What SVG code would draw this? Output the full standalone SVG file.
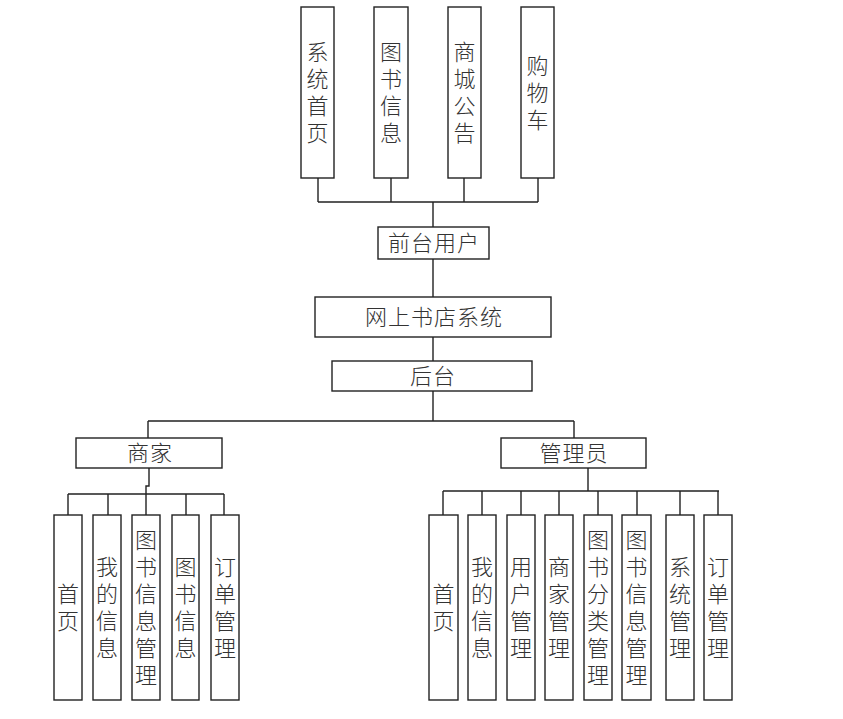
<svg xmlns="http://www.w3.org/2000/svg" width="843" height="719" viewBox="0 0 843 719">
<style>
rect{fill:#fff;stroke:#222;stroke-width:1.4}
text{font-family:"Noto Sans CJK SC","Noto Sans",sans-serif;font-size:22px;font-weight:300;fill:#333;text-anchor:middle;letter-spacing:1px}
text.v{writing-mode:vertical-rl;text-orientation:upright;letter-spacing:5px}
.c{fill:none;stroke:#222;stroke-width:1.4}
</style>
<rect x="0" y="0" width="843" height="719" style="stroke:none"/>
<g id="connectors">
<path class="c" d="M318,178V202M391,178V202M464,178V202M538,178V202M318,202H538M433,202V227"/>
<path class="c" d="M433,259V297M433,337V361M433,391V421M148,421H574M148,421V438M574,421V438"/>
<path class="c" d="M149,468V486H146V494M68,494H224M68,494V515M108,494V515M146,494V515M186,494V515M224,494V515"/>
<path class="c" d="M588,468V491M443,491H719M443,491V515M482,491V515M521,491V515M559,491V515M598,491V515M637,491V515M680,491V515M718,491V515"/>
</g>
<g id="n-xitongshouye"><rect x="301" y="7" width="33" height="171"/><text class="v" x="317.5" y="95">系统首页</text></g>
<g id="n-tushuxinxi"><rect x="374" y="7" width="34" height="171"/><text class="v" x="391" y="95">图书信息</text></g>
<g id="n-shangchenggonggao"><rect x="448" y="7" width="33" height="171"/><text class="v" x="464.5" y="95">商城公告</text></g>
<g id="n-gouwuche"><rect x="521" y="7" width="33" height="171"/><text class="v" x="537.5" y="95">购物车</text></g>
<g id="n-qiantai"><rect x="378" y="227" width="111" height="32"/><text x="434" y="251">前台用户</text></g>
<g id="n-system"><rect x="315" y="297" width="236" height="40"/><text x="434" y="325">网上书店系统</text></g>
<g id="n-houtai"><rect x="332" y="361" width="200" height="30"/><text x="433" y="384">后台</text></g>
<g id="n-shangjia"><rect x="76" y="438" width="146" height="30"/><text x="150" y="461">商家</text></g>
<g id="n-guanliyuan"><rect x="501" y="438" width="145" height="30"/><text x="574" y="461">管理员</text></g>
<g id="s-shouye"><rect x="54" y="515" width="28" height="185"/><text class="v" x="68" y="610">首页</text></g>
<g id="s-wodexinxi"><rect x="93" y="515" width="28" height="185"/><text class="v" x="107" y="610">我的信息</text></g>
<g id="s-tushuxinxiguanli"><rect x="132" y="515" width="28" height="185"/><text class="v" x="146" y="610">图书信息管理</text></g>
<g id="s-tushuxinxi"><rect x="172" y="515" width="27" height="185"/><text class="v" x="185.5" y="610">图书信息</text></g>
<g id="s-dingdanguanli"><rect x="211" y="515" width="28" height="185"/><text class="v" x="225" y="610">订单管理</text></g>
<g id="a-shouye"><rect x="429" y="515" width="29" height="185"/><text class="v" x="443.5" y="610">首页</text></g>
<g id="a-wodexinxi"><rect x="468" y="515" width="28" height="185"/><text class="v" x="482" y="610">我的信息</text></g>
<g id="a-yonghuguanli"><rect x="507" y="515" width="28" height="185"/><text class="v" x="521" y="610">用户管理</text></g>
<g id="a-shangjiaguanli"><rect x="545" y="515" width="28" height="185"/><text class="v" x="559" y="610">商家管理</text></g>
<g id="a-tushufenleiguanli"><rect x="584" y="515" width="28" height="185"/><text class="v" x="598" y="610">图书分类管理</text></g>
<g id="a-tushuxinxiguanli"><rect x="622" y="515" width="29" height="185"/><text class="v" x="636.5" y="610">图书信息管理</text></g>
<g id="a-xitongguanli"><rect x="666" y="515" width="28" height="185"/><text class="v" x="680" y="610">系统管理</text></g>
<g id="a-dingdanguanli"><rect x="704" y="515" width="28" height="185"/><text class="v" x="718" y="610">订单管理</text></g>
</svg>
